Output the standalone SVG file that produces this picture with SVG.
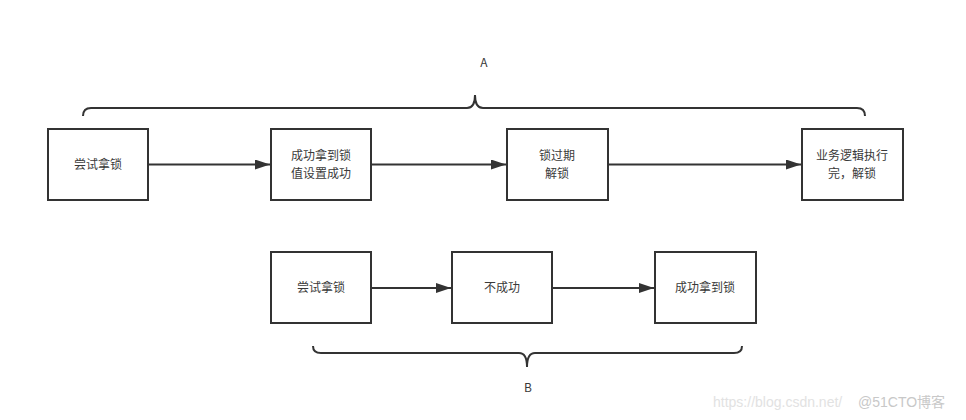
<svg xmlns="http://www.w3.org/2000/svg" width="966" height="420" viewBox="0 0 966 420">
<style>
.box{fill:#fff;stroke:#333;stroke-width:2}
.t{font-family:"Noto Sans CJK SC","Liberation Sans",sans-serif;font-size:12px;fill:#3a3a3a;text-anchor:middle}
.c{fill:none;stroke:#333;stroke-width:2}
.br{fill:none;stroke:#333;stroke-width:2}
.wm{font-family:"Liberation Sans","Noto Sans CJK SC",sans-serif;font-size:14px}
</style>
<defs>
<marker id="ah" markerWidth="16" markerHeight="10" refX="15" refY="5" orient="auto" markerUnits="userSpaceOnUse">
<path d="M0,0 L15,5 L0,10 Z" fill="#333"/>
</marker>
</defs>
<rect width="966" height="420" fill="#fff"/>
<g id="braceA">
<path class="br" d="M83,116 Q83,108 91,108 L467,108 Q475,108 475,95 Q475,108 483,108 L857,108 Q865,108 865,116"/>
<text class="t" x="484" y="67">A</text>
</g>
<g id="braceB">
<path class="br" d="M313,346 Q313,353 321,353 L519,353 Q527,353 527,367 Q527,353 535,353 L734,353 Q742,353 742,346"/>
<text class="t" x="528" y="392">B</text>
</g>
<g id="n1"><rect class="box" x="48" y="129" width="100" height="71"/><text class="t" x="98" y="169">尝试拿锁</text></g>
<g id="n2"><rect class="box" x="271" y="129" width="100" height="71"/><text class="t" x="321" y="160">成功拿到锁</text><text class="t" x="321" y="178">值设置成功</text></g>
<g id="n3"><rect class="box" x="507" y="129" width="101" height="71"/><text class="t" x="557" y="160">锁过期</text><text class="t" x="557" y="178">解锁</text></g>
<g id="n4"><rect class="box" x="802" y="129" width="101" height="71"/><text class="t" x="852" y="160">业务逻辑执行</text><text class="t" x="852" y="178">完，解锁</text></g>
<g id="n5"><rect class="box" x="271" y="252" width="100" height="71"/><text class="t" x="321" y="292">尝试拿锁</text></g>
<g id="n6"><rect class="box" x="452" y="252" width="100" height="71"/><text class="t" x="502" y="292">不成功</text></g>
<g id="n7"><rect class="box" x="655" y="252" width="101" height="71"/><text class="t" x="705" y="292">成功拿到锁</text></g>
<g id="connectors">
<line class="c" x1="148" y1="164.5" x2="270" y2="164.5" marker-end="url(#ah)"/>
<line class="c" x1="371" y1="164.5" x2="506" y2="164.5" marker-end="url(#ah)"/>
<line class="c" x1="608" y1="164.5" x2="801" y2="164.5" marker-end="url(#ah)"/>
<line class="c" x1="371" y1="288" x2="451" y2="288" marker-end="url(#ah)"/>
<line class="c" x1="552" y1="288" x2="654" y2="288" marker-end="url(#ah)"/>
</g>
<text class="wm" x="713" y="407" fill="#e2e2e2">https://blog.csdn.net/</text>
<text class="wm" x="858" y="407" fill="#c8c8c8">@51CTO博客</text>
</svg>
